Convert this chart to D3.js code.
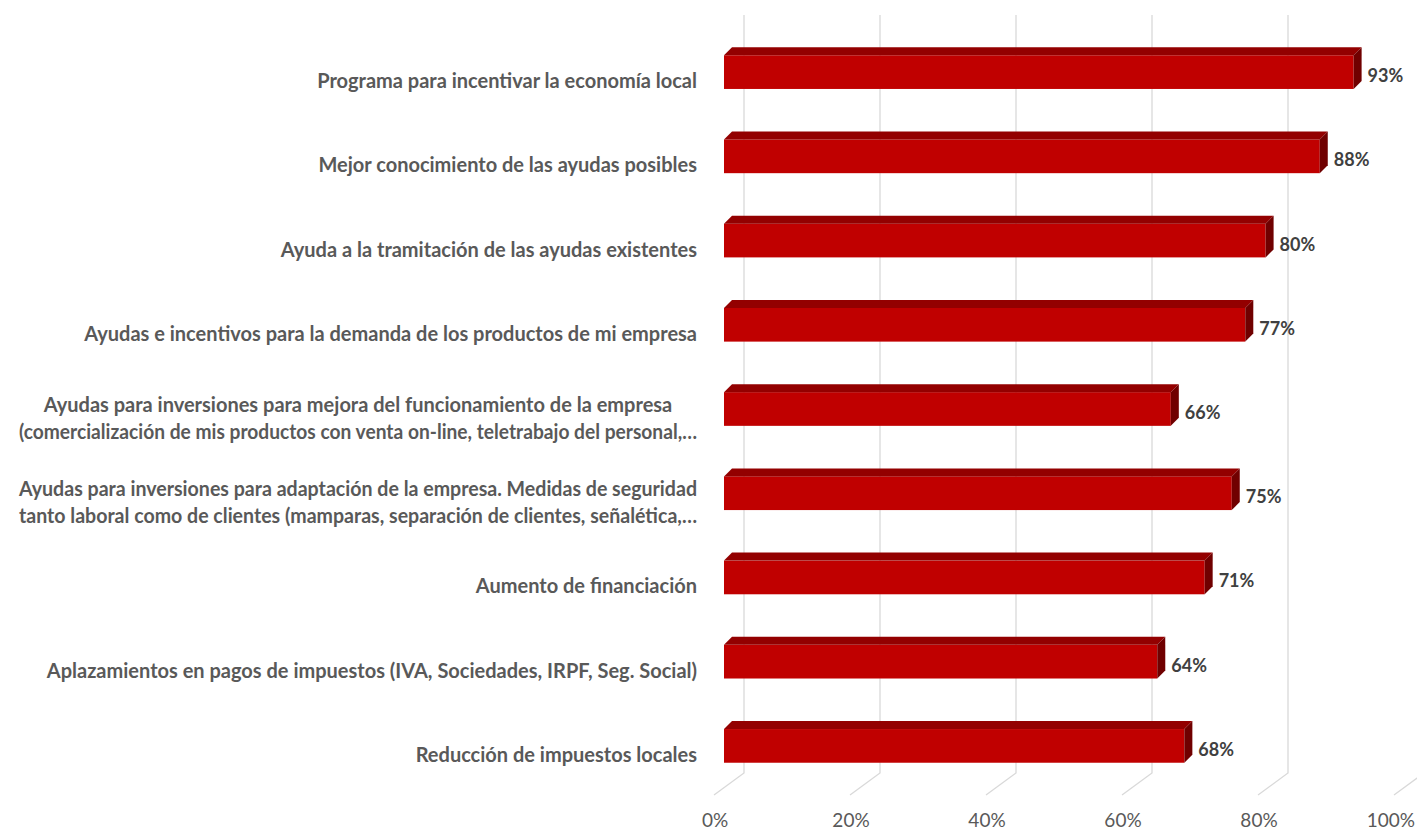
<!DOCTYPE html>
<html>
<head>
<meta charset="utf-8">
<script src="https://cdn.jsdelivr.net/npm/d3@7"></script>
<style>
body { margin: 0; background: #fff; }
.cat { fill: #595959; font-family: Lato, "Open Sans", sans-serif; font-weight: bold; font-size: 20px; }
.val { fill: #404040; font-family: Lato, "Open Sans", sans-serif; font-weight: bold; font-size: 18px; }
.tick-label { fill: #595959; font-family: Lato, "Open Sans", sans-serif; font-size: 19px; }
.grid { stroke: #d9d9d9; stroke-width: 1.3; fill: none; }
</style>
</head>
<body>
<script>
// categories top to bottom, "\n" = line break in the axis label
var categories = [
  "Programa para incentivar la economía local",
  "Mejor conocimiento de las ayudas posibles",
  "Ayuda a la tramitación de las ayudas existentes",
  "Ayudas e incentivos para la demanda de los productos de mi empresa",
  "Ayudas para inversiones para mejora del funcionamiento de la empresa\n(comercialización de mis productos con venta on-line, teletrabajo del personal,…",
  "Ayudas para inversiones para adaptación de la empresa. Medidas de seguridad\ntanto laboral como de clientes (mamparas, separación de clientes, señalética,…",
  "Aumento de financiación",
  "Aplazamientos en pagos de impuestos (IVA, Sociedades, IRPF, Seg. Social)",
  "Reducción de impuestos locales"
];
var values = [0.93, 0.88, 0.80, 0.77, 0.66, 0.75, 0.71, 0.64, 0.68];
var tickValues = [0, 0.2, 0.4, 0.6, 0.8, 1];

var width = 1417, height = 830;
var depth = 8;          // bar 3D offset
var floorDx = -30, floorDy = 22;  // back wall -> front floor edge

var svg = d3.select("body").append("svg")
    .attr("width", width)
    .attr("height", height);

// front plane for bars
var x = d3.scaleLinear().domain([0, 1]).range([724, 1401]);
// back wall for gridlines
var xBack = d3.scaleLinear().domain([0, 1]).range([744, 1424]);

var y = d3.scaleBand()
    .domain(categories)
    .range([30, 788])
    .paddingInner(0.6)
    .paddingOuter(0.3);

var gridTop = 15, gridBottom = 773;

// gridlines on back wall + floor
svg.append("g").selectAll("path")
    .data(tickValues)
  .enter().append("path")
    .attr("class", "grid")
    .attr("d", function(d) {
      var gx = xBack(d);
      return "M" + gx + "," + gridTop + "L" + gx + "," + gridBottom +
             "L" + (gx + floorDx) + "," + (gridBottom + floorDy);
    });

// tick labels (keep the last one inside the picture)
svg.append("g").selectAll("text")
    .data(tickValues)
  .enter().append("text")
    .attr("class", "tick-label")
    .attr("y", 819)
    .attr("text-anchor", "middle")
    .attr("dominant-baseline", "central")
    .text(function(d) { return d3.format(".0%")(d); })
    .attr("x", function(d) {
      var cx = xBack(d) + floorDx + 1;
      var w = this.getComputedTextLength();
      return Math.min(cx, width - 2 - w / 2);
    });

// bars
var bars = svg.append("g").selectAll("g")
    .data(categories)
  .enter().append("g");

bars.append("rect")
    .attr("x", x(0))
    .attr("y", function(d) { return y(d); })
    .attr("width", function(d, i) { return x(values[i]) - x(0); })
    .attr("height", y.bandwidth())
    .attr("fill", "#c00000");

bars.append("path")
    .attr("fill", "#930000")
    .attr("d", function(d, i) {
      var x0 = x(0), x1 = x(values[i]), y0 = y(d);
      return "M" + x0 + "," + y0 + "L" + (x0 + depth) + "," + (y0 - depth) +
             "L" + (x1 + depth) + "," + (y0 - depth) + "L" + x1 + "," + y0 + "Z";
    });

bars.append("path")
    .attr("fill", "#700000")
    .attr("d", function(d, i) {
      var x1 = x(values[i]), y0 = y(d), y1 = y(d) + y.bandwidth();
      return "M" + x1 + "," + y0 + "L" + (x1 + depth) + "," + (y0 - depth) +
             "L" + (x1 + depth) + "," + (y1 - depth) + "L" + x1 + "," + y1 + "Z";
    });

// value labels
bars.append("text")
    .attr("class", "val")
    .attr("x", function(d, i) { return x(values[i]) + 14; })
    .attr("y", function(d) { return y(d) + y.bandwidth() / 2 + 3; })
    .attr("dominant-baseline", "central")
    .text(function(d, i) { return Math.round(values[i] * 100) + "%"; });

// category labels, right aligned block, lines centred
var lineH = 27, maxLine = 678, right = 697;
bars.each(function(d) {
  var lines = d.split("\n");
  var g = d3.select(this).append("text")
      .attr("class", "cat")
      .attr("dominant-baseline", "central");
  var cy = y(d) + y.bandwidth() / 2 + 8 - (lines.length - 1) * lineH / 2;
  g.selectAll("tspan")
      .data(lines)
    .enter().append("tspan")
      .attr("y", function(l, j) { return cy + j * lineH; })
      .text(function(l) { return l; });
  // squeeze lines that are too long for the label area
  var ws = [];
  g.selectAll("tspan").each(function() {
    var w = this.getComputedTextLength();
    if (w > maxLine) {
      d3.select(this).attr("textLength", maxLine).attr("lengthAdjust", "spacingAndGlyphs");
      w = maxLine;
    }
    ws.push(w);
  });
  var maxW = d3.max(ws);
  g.selectAll("tspan")
      .attr("x", right - maxW / 2)
      .attr("text-anchor", "middle");
});
</script>
</body>
</html>
